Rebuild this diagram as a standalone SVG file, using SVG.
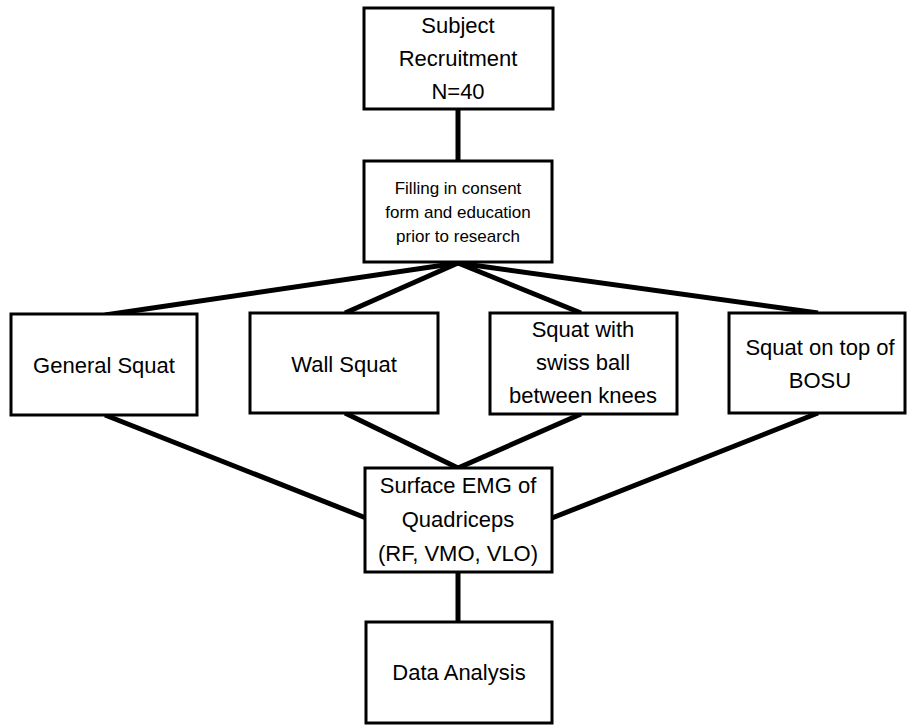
<svg xmlns="http://www.w3.org/2000/svg" width="908" height="726" viewBox="0 0 908 726">
<style>
.box{fill:#fff;stroke:#000;stroke-width:3}
.t{font-family:"Liberation Sans",Arial,sans-serif;font-size:22px;fill:#000;text-anchor:middle}
.s{font-size:17px}
.c{stroke:#000;stroke-width:5;fill:none;stroke-linecap:butt}
</style>
<rect width="908" height="726" fill="#fff"/>
<g id="connectors">
<line class="c" x1="458" y1="109" x2="458" y2="161"/>
<line class="c" x1="458" y1="263" x2="105" y2="315"/>
<line class="c" x1="458" y1="263" x2="345" y2="313"/>
<line class="c" x1="458" y1="263" x2="581" y2="313"/>
<line class="c" x1="458" y1="263" x2="818" y2="313"/>
<line class="c" x1="105" y1="415" x2="366" y2="518"/>
<line class="c" x1="345" y1="413" x2="458" y2="468"/>
<line class="c" x1="581" y1="414" x2="458" y2="468"/>
<line class="c" x1="818" y1="413" x2="552" y2="518"/>
<line class="c" x1="458" y1="572" x2="458" y2="622"/>
</g>
<g id="recruitment">
<rect class="box" x="364" y="8" width="189" height="101"/>
<text class="t" x="458" y="33">Subject</text>
<text class="t" x="458" y="66">Recruitment</text>
<text class="t" x="458" y="99">N=40</text>
</g>
<g id="consent">
<rect class="box" x="364" y="161" width="188" height="101"/>
<text class="t s" x="458" y="194">Filling in consent</text>
<text class="t s" x="458" y="218">form and education</text>
<text class="t s" x="458" y="242">prior to research</text>
</g>
<g id="general">
<rect class="box" x="11" y="314" width="186" height="101"/>
<text class="t" x="104" y="373">General Squat</text>
</g>
<g id="wall">
<rect class="box" x="250" y="313" width="188" height="100"/>
<text class="t" x="344" y="372">Wall Squat</text>
</g>
<g id="swiss">
<rect class="box" x="490" y="313" width="187" height="101"/>
<text class="t" x="583" y="337">Squat with</text>
<text class="t" x="583" y="370">swiss ball</text>
<text class="t" x="583" y="403">between knees</text>
</g>
<g id="bosu">
<rect class="box" x="729" y="313" width="176" height="100"/>
<text class="t" x="820" y="355">Squat on top of</text>
<text class="t" x="820" y="388">BOSU</text>
</g>
<g id="emg">
<rect class="box" x="365" y="468" width="187" height="104"/>
<text class="t" x="458" y="493">Surface EMG of</text>
<text class="t" x="458" y="527">Quadriceps</text>
<text class="t" x="458" y="561">(RF, VMO, VLO)</text>
</g>
<g id="analysis">
<rect class="box" x="366" y="622" width="186" height="101"/>
<text class="t" x="459" y="680">Data Analysis</text>
</g>
</svg>
